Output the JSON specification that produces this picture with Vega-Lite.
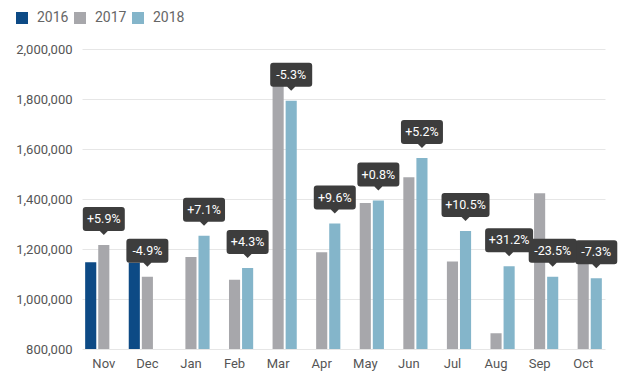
{
  "$schema": "https://vega.github.io/schema/vega-lite/v6.json",
  "width": 523,
  "height": 300,
  "autosize": {"type": "none"},
  "padding": {"left": 82, "top": 49, "right": 25, "bottom": 30},
  "background": "white",
  "config": {
    "font": "Roboto",
    "view": {"stroke": null},
    "axis": {"labelFont": "Roboto", "labelFontSize": 13, "labelColor": "#555555", "ticks": false, "domain": false, "title": null}
  },
  "data": {
    "values": [
      {"month": "Nov", "year": "2016", "sales": 1147000, "change": null},
      {"month": "Nov", "year": "2017", "sales": 1216000, "change": "+5.9%"},
      {"month": "Dec", "year": "2016", "sales": 1145000, "change": null},
      {"month": "Dec", "year": "2017", "sales": 1089000, "change": "-4.9%"},
      {"month": "Jan", "year": "2017", "sales": 1168000, "change": null},
      {"month": "Jan", "year": "2018", "sales": 1253000, "change": "+7.1%"},
      {"month": "Feb", "year": "2017", "sales": 1077000, "change": null},
      {"month": "Feb", "year": "2018", "sales": 1124000, "change": "+4.3%"},
      {"month": "Mar", "year": "2017", "sales": 1894000, "change": null},
      {"month": "Mar", "year": "2018", "sales": 1793000, "change": "-5.3%"},
      {"month": "Apr", "year": "2017", "sales": 1187000, "change": null},
      {"month": "Apr", "year": "2018", "sales": 1302000, "change": "+9.6%"},
      {"month": "May", "year": "2017", "sales": 1384000, "change": null},
      {"month": "May", "year": "2018", "sales": 1394000, "change": "+0.8%"},
      {"month": "Jun", "year": "2017", "sales": 1487000, "change": null},
      {"month": "Jun", "year": "2018", "sales": 1564000, "change": "+5.2%"},
      {"month": "Jul", "year": "2017", "sales": 1150000, "change": null},
      {"month": "Jul", "year": "2018", "sales": 1272000, "change": "+10.5%"},
      {"month": "Aug", "year": "2017", "sales": 863000, "change": null},
      {"month": "Aug", "year": "2018", "sales": 1131000, "change": "+31.2%"},
      {"month": "Sep", "year": "2017", "sales": 1423000, "change": null},
      {"month": "Sep", "year": "2018", "sales": 1089000, "change": "-23.5%"},
      {"month": "Oct", "year": "2017", "sales": 1168000, "change": null},
      {"month": "Oct", "year": "2018", "sales": 1083000, "change": "-7.3%"}
    ]
  },
  "encoding": {
    "x": {
      "field": "month", "type": "nominal",
      "sort": ["Nov", "Dec", "Jan", "Feb", "Mar", "Apr", "May", "Jun", "Jul", "Aug", "Sep", "Oct"],
      "scale": {"paddingInner": 0.1, "paddingOuter": 0.05},
      "axis": {"labelAngle": 0, "labelPadding": 8, "grid": false}
    },
    "xOffset": {
      "field": "year", "type": "nominal",
      "scale": {"domain": ["2016", "2017", "2018"], "paddingInner": 0.15, "paddingOuter": 0.075}
    },
    "y": {
      "field": "sales", "type": "quantitative",
      "scale": {"domain": [800000, 2000000], "zero": false},
      "axis": {"values": [800000, 1000000, 1200000, 1400000, 1600000, 1800000, 2000000], "format": ",d", "labelPadding": 10, "gridColor": "#e6e6e6", "gridWidth": 1}
    }
  },
  "layer": [
    {
      "mark": {"type": "bar"},
      "encoding": {
        "y2": {"datum": 800000},
        "color": {
          "field": "year", "type": "nominal",
          "scale": {"domain": ["2016", "2017", "2018"], "range": ["#0d4a85", "#a7a7ab", "#84b5ca"]},
          "legend": {
            "orient": "none", "legendX": -67, "legendY": -38, "direction": "horizontal",
            "title": null, "symbolType": "square", "symbolSize": 144, "symbolStrokeWidth": 0,
            "labelFontSize": 14, "labelColor": "#666666", "labelFont": "Roboto",
            "columnPadding": 4, "labelOffset": 8
          }
        }
      }
    },
    {
      "transform": [{"filter": "datum.change != null && length(datum.change) <= 5"}],
      "mark": {
        "type": "point", "filled": true, "size": 4, "opacity": 1, "color": "#3d3d3d", "strokeWidth": 0,
        "shape": "M-21,-35 Q-21,-38 -18,-38 L18,-38 Q21,-38 21,-35 L21,-17 Q21,-14 18,-14 L4,-14 L0,-10 L-4,-14 L-18,-14 Q-21,-14 -21,-17 Z"
      }
    },
    {
      "transform": [{"filter": "datum.change != null && length(datum.change) > 5"}],
      "mark": {
        "type": "point", "filled": true, "size": 4, "opacity": 1, "color": "#3d3d3d", "strokeWidth": 0,
        "shape": "M-24,-35 Q-24,-38 -21,-38 L21,-38 Q24,-38 24,-35 L24,-17 Q24,-14 21,-14 L4,-14 L0,-10 L-4,-14 L-21,-14 Q-24,-14 -24,-17 Z"
      }
    },
    {
      "transform": [{"filter": "datum.change != null"}],
      "mark": {"type": "text", "color": "white", "fontSize": 12.5, "font": "Roboto", "baseline": "middle", "align": "center", "dy": -26},
      "encoding": {"text": {"field": "change", "type": "nominal"}}
    }
  ]
}
